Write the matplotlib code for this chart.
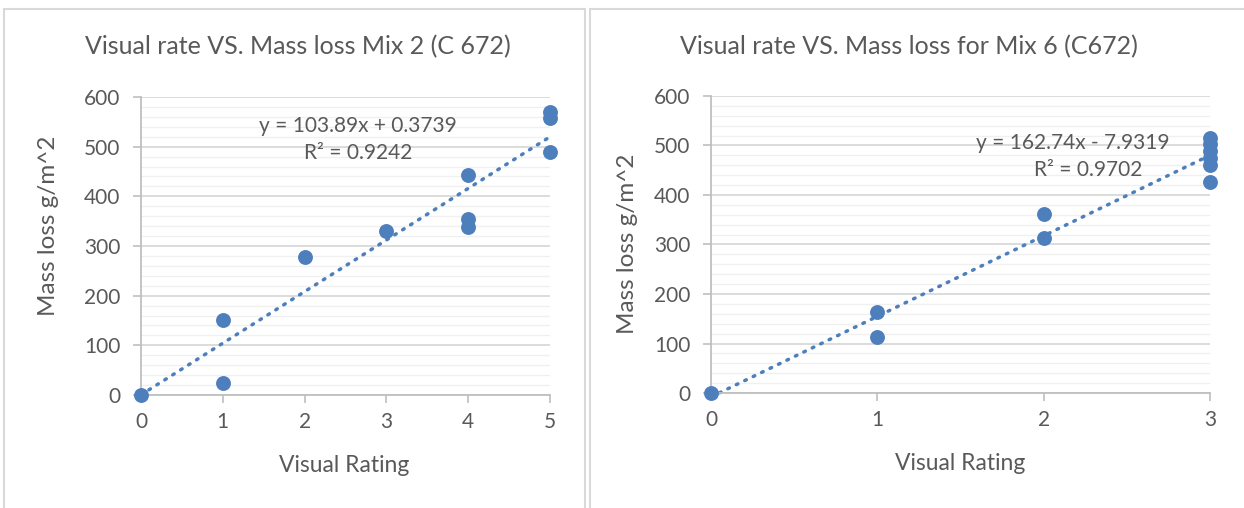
import matplotlib
matplotlib.use("Agg")
import matplotlib.pyplot as plt
from matplotlib.patches import Rectangle
from matplotlib.ticker import MultipleLocator
import numpy as np

plt.rcParams['font.family'] = ['Lato', 'DejaVu Sans']

# Mix 2 data
mix2_x = [0, 1, 1, 2, 3, 4, 4, 4, 5, 5, 5]
mix2_y = [0, 152, 24, 277, 331, 442, 355, 338, 570, 558, 490]
mix2_title = "Visual rate VS. Mass loss Mix 2 (C 672)"
mix2_eq = "y = 103.89x + 0.3739"
mix2_r2 = "R² = 0.9242"
mix2_fit = (103.89, 0.3739)

# Mix 6 data
mix6_x = [0, 1, 1, 2, 2, 3, 3, 3, 3, 3, 3]
mix6_y = [0, 164, 114, 362, 313, 516, 503, 488, 475, 460, 426]
mix6_title = "Visual rate VS. Mass loss for Mix 6 (C672)"
mix6_eq = "y = 162.74x - 7.9319"
mix6_r2 = "R² = 0.9702"
mix6_fit = (162.74, -7.9319)

xlabel = "Visual Rating"
ylabel = "Mass loss g/m^2"

W, H = 1244, 508
fig = plt.figure(figsize=(W / 100, H / 100), dpi=100)

def fx(px):
    return px / W

def fy(py):
    return 1 - py / H

text_col = '#595959'
grid_major = '#D9D9D9'
grid_minor = '#F0F0F0'
blue = '#4E7FBD'

# panel borders
for (x0, x1) in [(4, 585), (590, 1260)]:
    fig.add_artist(Rectangle((fx(x0), fy(520)), fx(x1) - fx(x0), fy(9) - fy(520),
                             transform=fig.transFigure, fill=False,
                             edgecolor='#D9D9D9', linewidth=1.5))

def make(ax, xs, ys, xmax, fit):
    ax.set_xlim(0, xmax)
    ax.set_ylim(0, 600)
    ax.yaxis.set_major_locator(MultipleLocator(100))
    ax.yaxis.set_minor_locator(MultipleLocator(20))
    ax.xaxis.set_major_locator(MultipleLocator(1))
    ax.grid(True, which='major', axis='y', color=grid_major, linewidth=1.3, zorder=0)
    ax.grid(True, which='minor', axis='y', color=grid_minor, linewidth=1.0, zorder=0)
    ax.set_axisbelow(True)
    for s in ['top', 'right']:
        ax.spines[s].set_visible(False)
    for s in ['left', 'bottom']:
        ax.spines[s].set_color('#BFBFBF')
        ax.spines[s].set_linewidth(1.3)
    ax.tick_params(axis='both', which='major', colors='#BFBFBF', labelcolor=text_col,
                   labelsize=15, length=6, width=1.2, direction='out', pad=6)
    ax.tick_params(axis='y', which='minor', length=0)
    ax.tick_params(axis='y', which='major', pad=9)
    xx = np.array([0, xmax], dtype=float)
    ax.plot(xx, fit[0] * xx + fit[1], linestyle=(0, (0.5, 2.2)), dash_capstyle='round',
            color=blue, linewidth=2.5, zorder=2, clip_on=False)
    ax.scatter(xs, ys, s=115, color=blue, zorder=3, clip_on=False, linewidths=0)
    ax.set_facecolor('none')

ax1 = fig.add_axes([fx(141), fy(395), fx(550) - fx(141), fy(97) - fy(395)])
make(ax1, mix2_x, mix2_y, 5, mix2_fit)
ax2 = fig.add_axes([fx(711), fy(393), fx(1210) - fx(711), fy(96) - fy(393)])
make(ax2, mix6_x, mix6_y, 3, mix6_fit)

# titles
fig.text(fx(298), fy(47), mix2_title, ha='center', va='center', fontsize=18, color=text_col)
fig.text(fx(909), fy(47), mix6_title, ha='center', va='center', fontsize=18, color=text_col)
# axis labels
fig.text(fx(344), fy(465), xlabel, ha='center', va='center', fontsize=16.5, color=text_col)
fig.text(fx(960), fy(464), xlabel, ha='center', va='center', fontsize=16.5, color=text_col)
fig.text(fx(49), fy(226), ylabel, ha='center', va='center', fontsize=17.5, color=text_col, rotation=90)
fig.text(fx(628), fy(244), ylabel, ha='center', va='center', fontsize=17.5, color=text_col, rotation=90)
# equations
fig.text(fx(358), fy(126), mix2_eq, ha='center', va='center', fontsize=15, color=text_col)
fig.text(fx(358), fy(153), mix2_r2, ha='center', va='center', fontsize=15, color=text_col)
fig.text(fx(1073), fy(143), mix6_eq, ha='center', va='center', fontsize=15, color=text_col)
fig.text(fx(1088), fy(170), mix6_r2, ha='center', va='center', fontsize=15, color=text_col)

fig.savefig('out.png', dpi=100, facecolor='white')
